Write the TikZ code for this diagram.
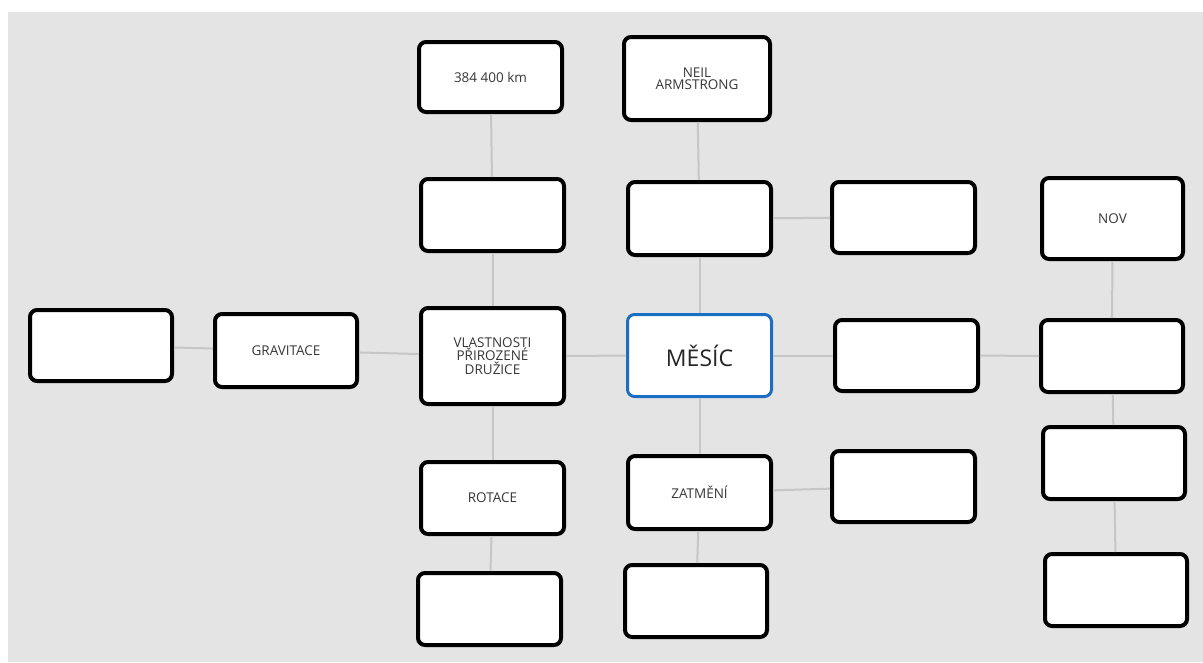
\documentclass[tikz,border=0pt]{standalone}
\usepackage{fontspec}
\setmainfont{Open Sans}
\definecolor{canvas}{HTML}{E4E4E4}
\definecolor{linkgray}{HTML}{C6C6C6}
\definecolor{txt}{HTML}{383838}
\definecolor{rootblue}{HTML}{1B6EC2}
\tikzset{
  topic/.style={draw=black, line width=4pt, fill=white, rounded corners=7pt,
    minimum width=143pt, minimum height=72pt, inner sep=0pt, align=center,
    text=txt, font=\fontsize{13.5}{12.5}\selectfont},
  root/.style={topic, draw=rootblue, line width=3pt, minimum width=144pt,
    minimum height=82pt, font=\fontsize{23}{25}\selectfont, text=black!85},
  link/.style={draw=linkgray, line width=2pt}
}
\begin{document}
\begin{tikzpicture}[x=1pt,y=-1pt]
  \useasboundingbox (0,0) rectangle (1203,662);
  \fill[canvas] (8,12) rectangle (1203,662);

  % central topic
  \node[root] (mesic) at (699.5,355.5) {MĚSÍC};

  % left branch
  \node[topic, minimum height=96pt] (vlast) at (492.5,356) {VLASTNOSTI\\PŘIROZENÉ\\DRUŽICE};
  \node[topic] (b3) at (492.5,215) {};
  \node[topic, minimum height=70pt] (dist) at (490.5,77) {384 400 km};
  \node[topic, minimum width=142pt, minimum height=73pt] (grav) at (286,350.5) {GRAVITACE};
  \node[topic, minimum width=142pt, minimum height=71pt] (farleft) at (101,345.5) {};
  \node[topic] (rot) at (492.5,498) {ROTACE};
  \node[topic] (b18) at (489.5,609) {};

  % upper branch
  \node[topic, minimum height=73pt] (b4) at (699.5,218.5) {};
  \node[topic, minimum width=146pt, minimum height=83pt] (neil) at (697,78.5) {NEIL\\ARMSTRONG};
  \node[topic, minimum height=71pt] (b5) at (903.5,217.5) {};

  % right branch
  \node[topic, minimum height=71pt] (b11) at (906.5,355.5) {};
  \node[topic, minimum width=142pt] (b12) at (1112,356) {};
  \node[topic, minimum width=141pt, minimum height=81pt] (nov) at (1112.5,218.5) {NOV};
  \node[topic, minimum width=142pt] (b13) at (1114,463) {};
  \node[topic, minimum width=142pt] (b14) at (1116,590) {};

  % lower branch
  \node[topic, minimum height=73pt] (zat) at (699.5,492.5) {ZATMĚNÍ};
  \node[topic, minimum height=71pt] (b17) at (903.5,486.5) {};
  \node[topic, minimum width=142pt] (b19) at (696,601) {};

  % connectors
  \draw[link] (dist) -- (b3);
  \draw[link] (b3) -- (vlast);
  \draw[link] (farleft) -- (grav);
  \draw[link] (grav) -- (vlast);
  \draw[link] (vlast) -- (mesic);
  \draw[link] (vlast) -- (rot);
  \draw[link] (rot) -- (b18);
  \draw[link] (neil) -- (b4);
  \draw[link] (b4) -- (mesic);
  \draw[link] (b4) -- (b5);
  \draw[link] (mesic) -- (b11);
  \draw[link] (b11) -- (b12);
  \draw[link] (nov) -- (b12);
  \draw[link] (b12) -- (b13);
  \draw[link] (b13) -- (b14);
  \draw[link] (mesic) -- (zat);
  \draw[link] (zat) -- (b17);
  \draw[link] (zat) -- (b19);
\end{tikzpicture}
\end{document}
